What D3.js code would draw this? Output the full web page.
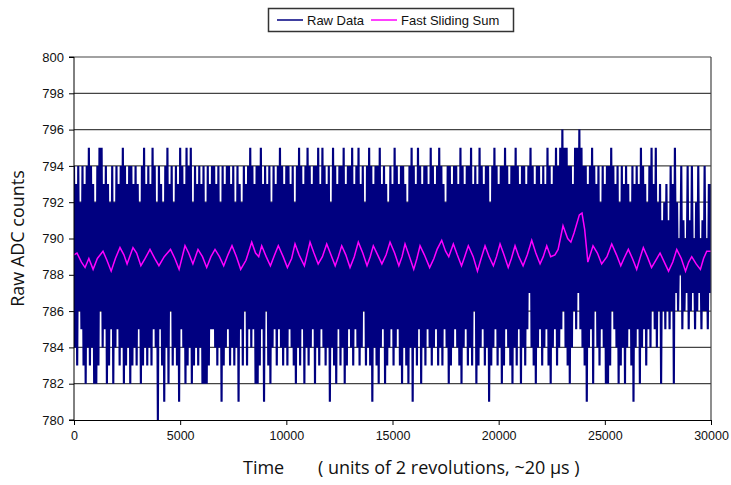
<!DOCTYPE html>
<html>
<head>
<meta charset="utf-8">
<script src="https://cdn.jsdelivr.net/npm/d3@7"></script>
<style>
  body { margin: 0; background: #fff; }
  svg { display: block; }
</style>
</head>
<body>
<svg id="chart"></svg>
<script>
// raw ADC samples, read as top / bottom of each 100-unit slice of time
const rawStep = 100
const rawTop = [
  794,793,794,792,794,793,794,795,794,793,
  792,794,795,795,793,794,793,792,794,792,
  794,793,794,795,794,793,794,794,793,794,
  793,792,794,795,793,794,793,795,794,792,
  794,793,792,794,795,793,794,792,794,793,
  795,794,793,795,794,795,792,794,793,794,
  793,794,792,794,793,794,794,793,794,792,
  794,793,794,794,793,794,792,794,793,792,
  794,793,794,795,794,793,794,794,795,793,
  794,793,794,792,794,793,794,795,794,793,
  794,794,793,794,792,794,795,794,793,794,
  795,794,793,794,794,795,793,795,794,793,
  794,792,795,794,793,794,794,795,793,794,
  794,795,793,794,795,793,794,792,794,795,
  794,793,794,794,795,793,794,793,792,794,
  793,795,794,793,794,794,793,792,794,795,
  794,793,795,794,793,794,794,793,795,794,
  793,794,795,794,793,792,794,794,793,794,
  794,793,795,794,793,794,794,795,793,794,
  793,795,794,793,794,794,792,794,795,794,
  793,794,794,795,794,793,794,794,795,794,
  793,794,794,793,794,795,794,793,794,794,
  793,794,793,795,794,793,794,795,794,795,
  796,795,795,794,794,793,795,795,796,795,
  794,794,793,794,795,794,793,794,792,794,
  793,794,794,795,794,793,794,792,794,793,
  794,793,792,794,793,794,793,795,794,793,
  792,794,795,793,795,792,793,791,792,793,
  791,794,793,795,792,790,794,791,790,794,
  791,794,790,792,794,790,791,794,790,793,
  793
]
const rawBottom = [
  784,783,786,785,783,782,784,783,784,782,
  782,783,786,784,785,782,783,785,782,784,
  785,783,784,782,783,784,782,783,784,783,
  785,782,783,784,783,784,783,785,784,780,
  785,783,781,784,782,786,783,784,783,781,
  785,784,782,783,784,782,783,784,783,784,
  782,782,782,783,785,785,784,783,784,781,
  783,784,785,783,784,783,784,781,785,783,
  786,783,785,784,785,782,782,783,785,781,
  786,783,782,784,785,783,785,784,783,784,
  783,785,784,783,782,784,783,785,782,784,
  783,784,785,782,784,783,785,784,783,784,
  781,784,783,782,785,783,784,782,783,785,
  784,783,785,784,783,784,786,783,784,783,
  781,784,783,782,784,785,782,783,784,785,
  783,784,785,783,782,784,783,782,784,781,
  784,783,785,782,784,783,785,784,783,784,
  785,783,784,783,785,784,782,783,784,785,
  784,783,782,784,785,783,784,783,786,782,
  783,784,785,783,784,781,783,784,785,783,
  784,782,783,785,784,783,782,784,783,785,
  782,784,783,785,787,784,783,782,784,785,
  783,784,785,783,782,784,785,783,784,785,
  786,784,783,782,784,786,785,787,785,784,
  783,781,784,785,782,786,784,783,785,784,
  782,782,783,786,785,784,782,783,784,782,
  784,785,783,781,784,785,782,784,785,783,
  785,784,786,785,784,786,782,786,785,786,
  785,786,782,787,786,788,785,786,787,785,
  786,787,785,786,787,785,786,786,785,787,
  786
]

// fast sliding sum (peaks and troughs)
const sumTimes = [
  0,141,350,520,700,900,1100,1366,1550,1750,1950,2166,2350,2500,2779,2950,3150,3350,3579,3800,
  4000,4250,4545,4750,4950,5228,5400,5600,5840,6050,6250,6450,6641,6850,7050,7250,7441,7650,7850,8100,
  8370,8550,8700,8840,9050,9250,9450,9622,9850,10050,10250,10409,10600,10850,11116,11300,11500,11700,11902,12100,
  12300,12450,12608,12800,13000,13200,13390,13600,13800,13950,14096,14300,14500,14700,14884,15100,15300,15450,15590,15800,
  16000,16150,16297,16500,16750,16950,17100,17318,17500,17650,17865,18050,18250,18400,18571,18800,19000,19150,19358,19550,
  19750,19900,20065,20250,20450,20600,20771,20950,21150,21350,21557,21750,21950,22100,22264,22450,22650,22800,23031,23250,
  23400,23550,23800,23925,24050,24200,24444,24650,24850,25100,25325,25550,25750,25900,26107,26300,26500,26650,26813,27000,
  27200,27400,27600,27800,28000,28200,28387,28600,28800,28950,29093,29300,29500,29650,29800,30000
]
const sumValues = [
  789.1,789.2,788.7,788.4,788.9,788.3,788.9,789.3,788.8,788.2,788.9,789.5,789.1,788.6,789.5,789.2,788.5,788.9,789.4,788.9,
  788.5,789.0,789.4,788.9,788.3,789.6,789.2,788.6,789.4,789.0,788.4,789.0,789.4,789.0,788.5,789.1,789.6,789.0,788.3,788.8,
  789.8,789.2,789.0,789.6,789.0,788.5,789.1,789.6,789.0,788.4,788.9,789.7,789.1,788.5,789.8,789.2,788.6,789.0,789.7,789.1,
  788.5,789.0,789.6,789.1,788.4,789.0,789.8,789.2,788.5,789.0,789.6,789.1,788.6,789.1,789.8,789.2,788.5,789.0,789.7,789.0,
  788.3,788.9,789.6,789.1,788.4,788.9,789.4,789.9,789.3,789.0,789.7,789.1,788.5,789.0,789.6,789.0,788.2,788.8,789.6,789.0,
  788.5,789.0,789.7,789.1,788.4,788.9,789.6,789.0,788.5,789.1,789.9,789.2,788.6,789.0,789.6,789.0,789.1,789.4,790.7,790.0,
  789.8,790.3,791.3,791.4,790.5,788.7,789.6,789.2,788.6,789.0,789.7,789.1,788.5,788.9,789.4,788.9,788.3,788.9,789.5,789.0,
  788.4,788.8,789.2,788.7,788.2,788.7,789.4,788.9,788.2,788.7,789.0,788.6,788.3,788.9,789.3,789.3
]

const yTicks = [780,782,784,786,788,790,792,794,796,798,800]
const xTicks = [0,5000,10000,15000,20000,25000,30000]

const width = 731, height = 485
const margin = {top: 57, right: 20, bottom: 65, left: 74}

const svg = d3.select('#chart')
    .attr('width', width)
    .attr('height', height)
    .style('font-family', '"Liberation Sans", Arial, sans-serif')

let x = d3.scaleLinear()
    .domain([0, 30000])
    .range([margin.left, width - margin.right])
let y = d3.scaleLinear()
    .domain([780, 800])
    .range([height - margin.bottom, margin.top])

svg.append('defs').append('clipPath')
    .attr('id', 'plot-clip')
    .append('rect')
    .attr('x', x(0)).attr('y', y(800))
    .attr('width', x(30000) - x(0))
    .attr('height', y(780) - y(800))

// GRIDLINES
svg.append('g')
    .selectAll('line')
    .data(yTicks.filter(d => d > 780))
    .join('line')
    .attr('x1', x(0)).attr('x2', x(30000))
    .attr('y1', d => y(d)).attr('y2', d => y(d))
    .attr('stroke', '#444')
    .attr('stroke-width', 1.2)

// RAW DATA
let rawPoints = []
rawTop.forEach(function(v, i) {
    rawPoints.push({t: i * rawStep, v: v})
    rawPoints.push({t: i * rawStep + rawStep / 2, v: rawBottom[i]})
})

let line = d3.line()
    .x(d => x(d.t))
    .y(d => y(d.v))

let plot = svg.append('g').attr('clip-path', 'url(#plot-clip)')

plot.append('path')
    .datum(rawPoints)
    .attr('d', line)
    .attr('fill', 'none')
    .attr('stroke', '#000080')
    .attr('stroke-width', 2.15)
    .attr('stroke-linejoin', 'bevel')

// FAST SLIDING SUM
let sumPoints = sumTimes.map((t, i) => ({t: t, v: sumValues[i]}))
plot.append('path')
    .datum(sumPoints)
    .attr('d', line)
    .attr('fill', 'none')
    .attr('stroke', '#ff00ff')
    .attr('stroke-width', 1.5)

// BORDER (right)
svg.append('line')
    .attr('x1', x(30000)).attr('x2', x(30000))
    .attr('y1', y(800)).attr('y2', y(780))
    .attr('stroke', '#444').attr('stroke-width', 1.2)

// AXES
let yAxis = svg.append('g')
    .attr('transform', `translate(${x(0)},0)`)
    .call(d3.axisLeft(y).tickValues(yTicks).tickSize(5).tickPadding(5).tickFormat(d3.format('d')))
yAxis.selectAll('text').attr('font-size', 13).attr('fill', '#111')
yAxis.selectAll('line, path').attr('stroke', '#000')
yAxis.select('.domain').attr('d', `M-5,${y(800)}H0V${y(780)}H-5`)

let xAxis = svg.append('g')
    .attr('transform', `translate(0,${y(780)})`)
    .call(d3.axisBottom(x).tickValues(xTicks).tickSize(5).tickPadding(6).tickFormat(d3.format('d')))
xAxis.selectAll('text').attr('font-size', 12.5).attr('fill', '#111')
xAxis.selectAll('line, path').attr('stroke', '#000')

// AXIS TITLES
svg.append('text')
    .attr('transform', `translate(24,${(y(780) + y(800)) / 2}) rotate(-90)`)
    .attr('text-anchor', 'middle')
    .style('font-family', '"Open Sans", sans-serif')
    .attr('font-size', 18)
    .attr('fill', '#111')
    .text('Raw ADC counts')

let xTitle = svg.append('text')
    .attr('y', 474)
    .style('font-family', '"Open Sans", sans-serif')
    .attr('font-size', 18)
    .attr('fill', '#111')
xTitle.append('tspan').attr('x', 243).text('Time')
xTitle.append('tspan').attr('x', 318).text('( units of 2 revolutions, ~20 \u03bcs )')

// LEGEND
let legend = svg.append('g')
legend.append('rect')
    .attr('x', 268.5).attr('y', 8.5)
    .attr('width', 245).attr('height', 23)
    .attr('fill', '#fff')
    .attr('stroke', '#333')
    .attr('stroke-width', 1.5)
let legendItems = [
    {label: 'Raw Data', colour: '#000080', x0: 277},
    {label: 'Fast Sliding Sum', colour: '#ff00ff', x0: 371}
]
legendItems.forEach(function(item) {
    legend.append('line')
        .attr('x1', item.x0).attr('x2', item.x0 + 26)
        .attr('y1', 20).attr('y2', 20)
        .attr('stroke', item.colour).attr('stroke-width', 1.5)
    legend.append('text')
        .attr('x', item.x0 + 30).attr('y', 24.5)
        .attr('font-size', 13)
        .attr('fill', '#111')
        .text(item.label)
})
</script>
</body>
</html>
